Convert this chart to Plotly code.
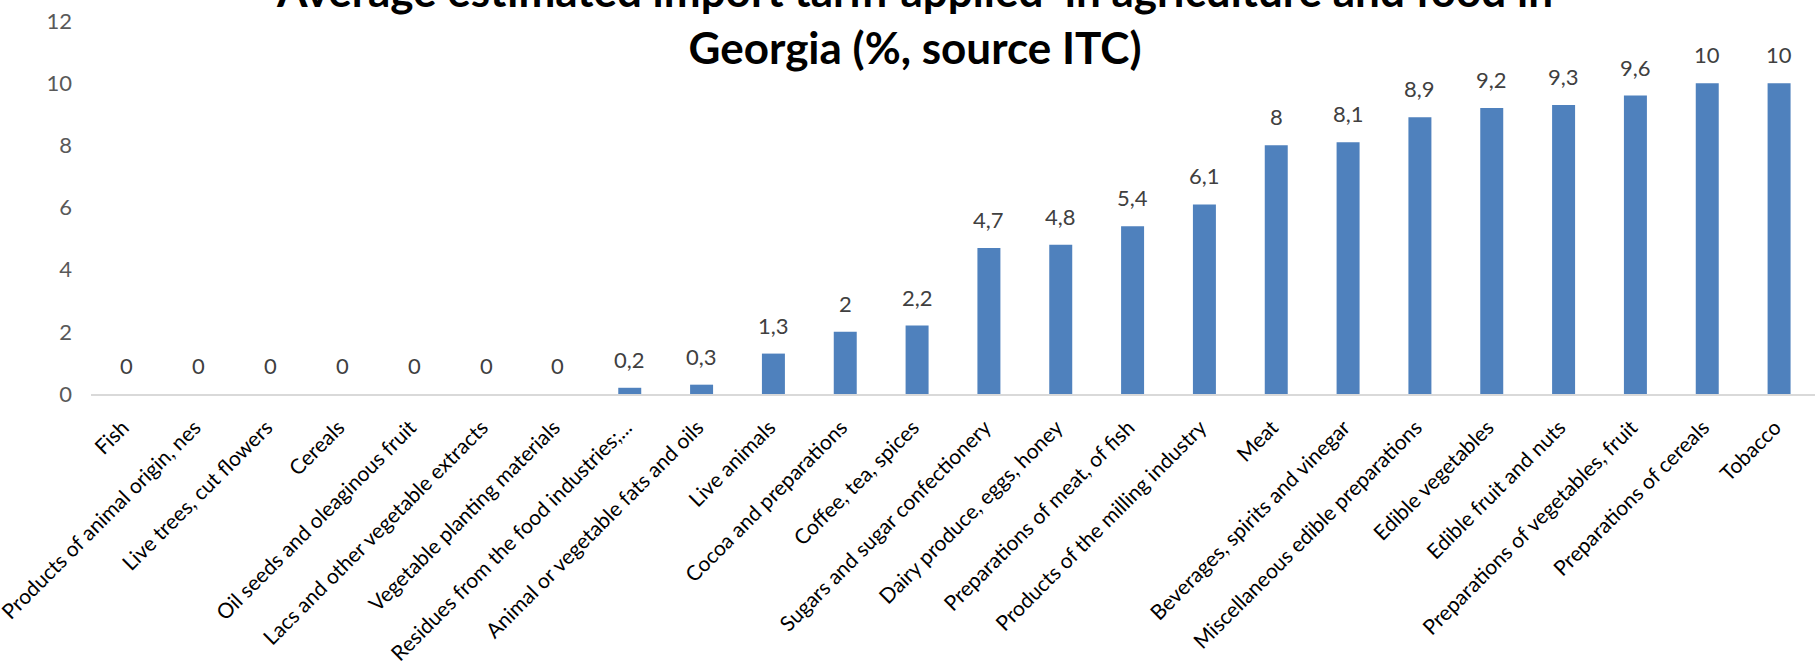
import plotly.graph_objects as go

# Product groups, sorted by average applied tariff
categories = [
    "Fish", "Products of animal origin, nes", "Live trees, cut flowers", "Cereals",
    "Oil seeds and oleaginous fruit", "Lacs and other vegetable extracts",
    "Vegetable planting materials", "Residues from the food industries;...",
    "Animal or vegetable fats and oils", "Live animals", "Cocoa and preparations",
    "Coffee, tea, spices", "Sugars and sugar confectionery", "Dairy produce, eggs, honey",
    "Preparations of meat, of fish", "Products of the milling industry", "Meat",
    "Beverages, spirits and vinegar", "Miscellaneous edible preparations",
    "Edible vegetables", "Edible fruit and nuts", "Preparations of vegetables, fruit",
    "Preparations of cereals", "Tobacco",
]
tariff = [0, 0, 0, 0, 0, 0, 0, 0.2, 0.3, 1.3, 2, 2.2, 4.7, 4.8, 5.4, 6.1,
          8, 8.1, 8.9, 9.2, 9.3, 9.6, 10, 10]
y_ticks = [0, 2, 4, 6, 8, 10, 12]

FONT = "Lato"
BAR = "#4F81BD"


def fmt(v):
    # decimal comma, integers without a fractional part
    s = f"{v:g}"
    return s.replace(".", ",")


fig = go.Figure(
    go.Bar(
        x=categories,
        y=tariff,
        marker=dict(color=BAR, line=dict(width=0)),
        hoverinfo="skip",
    )
)

# value labels above each bar
for c, v in zip(categories, tariff):
    fig.add_annotation(
        x=c, y=v, text=fmt(v), showarrow=False,
        xanchor="center", yanchor="bottom", yshift=13,
        font=dict(family=FONT, size=22, color="#404040"),
    )

fig.update_layout(
    width=1815, height=663,
    margin=dict(l=91, r=0, t=21, b=269),
    paper_bgcolor="white", plot_bgcolor="white",
    bargap=0.68,
    showlegend=False,
    title=dict(
        text="Average estimated import tariff applied  in agriculture and food in<br>Georgia (%, source ITC)",
        font=dict(family=FONT, size=44, color="#000000", weight="bold"),
        x=915 / 1815, xanchor="center", xref="container",
        y=1 - 6.5 / 663, yanchor="middle", yref="container",
    ),
    xaxis=dict(
        tickangle=-45,
        tickfont=dict(family=FONT, size=21, color="#000000"),
        showline=True, linecolor="#D9D9D9", linewidth=2,
        showgrid=False, ticks="",
        ticklabelshift=-4, ticklabelstandoff=11,
        automargin=False,
    ),
    yaxis=dict(
        range=[0, 12],
        tickvals=y_ticks,
        ticktext=[str(t) for t in y_ticks],
        tickfont=dict(family=FONT, size=22, color="#595959"),
        showgrid=False, zeroline=False, showline=False,
        ticks="", ticklabelstandoff=18,
        automargin=False,
    ),
)

fig.write_html("out.html")
